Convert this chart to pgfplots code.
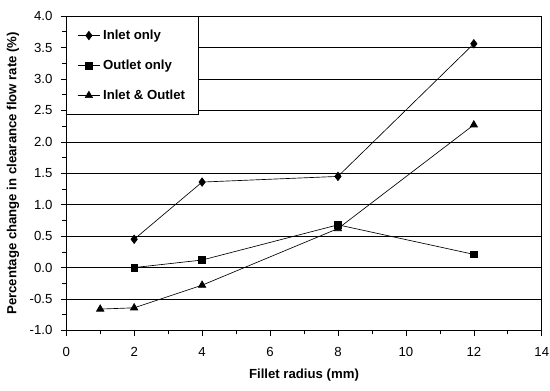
\documentclass[border=0pt]{standalone}
\usepackage{fontspec}
\setmainfont{Liberation Sans}
\usepackage{pgfplots}
\pgfplotsset{compat=1.18}
\begin{document}
\fontsize{10}{12}\selectfont
\begin{tikzpicture}
\useasboundingbox (-50.25pt,-45.2pt) rectangle (367pt,250.7pt);
\begin{axis}[
  at={(0,0)}, anchor=south west,
  scale only axis,
  width=360.75pt, height=238.5pt,
  xmin=0, xmax=14, ymin=-1, ymax=4,
  xtick={0,2,...,14}, minor x tick num=1,
  ytick={-1,-0.5,...,4}, minor y tick num=1,
  tick align=outside,
  major tick length=4pt, minor tick length=3pt,
  tick style={black, line width=0.5pt},
  xtick pos=bottom, ytick pos=left,
  ymajorgrids, major grid style={black, line width=0.5pt},
  axis line style={black, line width=0.8pt},
  /pgf/number format/assume math mode=true,
  ticklabel style={font=\fontsize{10}{12}\selectfont},
  xticklabel style={yshift=-5pt},
  yticklabel style={xshift=-3pt, /pgf/number format/.cd, fixed, fixed zerofill, precision=1},
  xlabel={\bfseries Fillet radius (mm)},
  ylabel={\bfseries Percentage change in clearance flow rate (\%)},
  label style={font=\fontsize{10}{12}\selectfont},
  xlabel style={yshift=-3pt},
  ylabel style={yshift=1pt},
  legend cell align=left,
  legend style={at={(rel axis cs:0,1)}, anchor=north west, draw=black, line width=0.8pt,
    font=\fontsize{10}{12}\selectfont\bfseries, row sep=10pt, inner xsep=8pt, inner ysep=8pt},
]
\addplot[black, line width=0.5pt, mark=diamond*, mark size=3.2pt, mark options={fill=black}] coordinates {(2,0.45) (4,1.36) (8,1.45) (12,3.56)};
\addlegendentry{Inlet only}
\addplot[black, line width=0.5pt, mark=square*, mark size=2.5pt, mark options={fill=black}] coordinates {(2,0.0) (4,0.12) (8,0.68) (12,0.21)};
\addlegendentry{Outlet only}
\addplot[black, line width=0.5pt, mark=triangle*, mark size=3.2pt, mark options={fill=black}] coordinates {(1,-0.66) (2,-0.64) (4,-0.28) (8,0.62) (12,2.27)};
\addlegendentry{Inlet \& Outlet}
\end{axis}
\end{tikzpicture}
\end{document}
